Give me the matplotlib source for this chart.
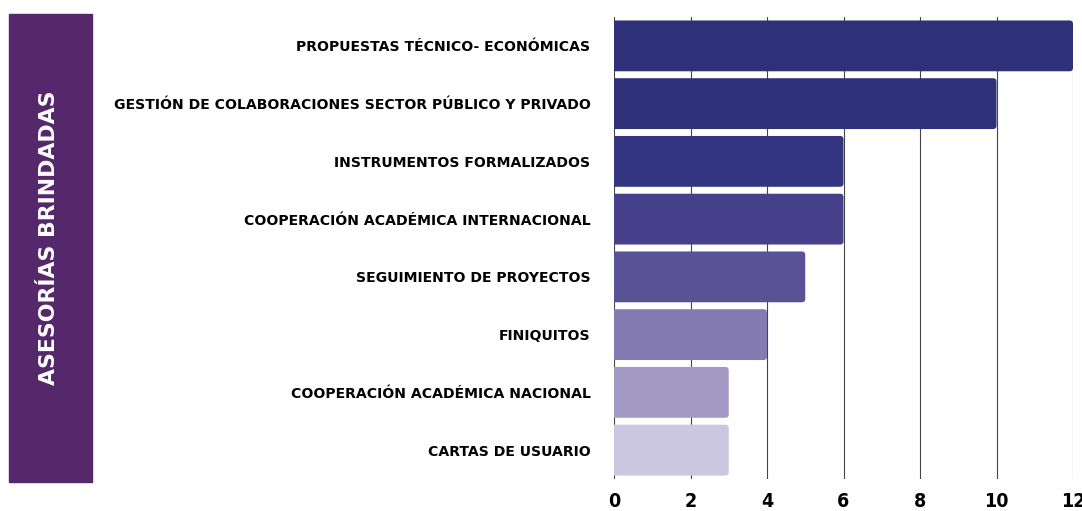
import matplotlib
matplotlib.use('Agg')
import matplotlib.pyplot as plt
from matplotlib.patches import Rectangle, FancyBboxPatch

# datos de la gráfica
categorias = ['PROPUESTAS TÉCNICO- ECONÓMICAS',
              'GESTIÓN DE COLABORACIONES SECTOR PÚBLICO Y PRIVADO',
              'INSTRUMENTOS FORMALIZADOS',
              'COOPERACIÓN ACADÉMICA INTERNACIONAL',
              'SEGUIMIENTO DE PROYECTOS',
              'FINIQUITOS',
              'COOPERACIÓN ACADÉMICA NACIONAL',
              'CARTAS DE USUARIO']
valores = [12, 10, 6, 6, 5, 4, 3, 3]
colores = ['#2E3178', '#2E3178', '#333580', '#46418A', '#5A5296', '#857BB3', '#A29AC5', '#CBC7E1']
ticks_x = [0, 2, 4, 6, 8, 10, 12]
titulo = 'ASESORÍAS BRINDADAS'

fig = plt.figure(figsize=(10.82, 5.11), dpi=100)
ax = fig.add_axes([614 / 1082, 1 - 479 / 511, 459 / 1082, 462 / 511])

y = list(range(len(categorias)))
barras = ax.barh(y, valores, height=0.88, color=colores, zorder=3)
ax.set_ylim(len(categorias) - 0.5, -0.5)
ax.set_xlim(0, 12)

# esquinas redondeadas en el extremo derecho de cada barra
for b in barras:
    b.set_visible(False)
    x0 = -0.3
    caja = FancyBboxPatch((x0, b.get_y()), b.get_width() - x0, b.get_height(),
                          boxstyle='round,pad=0,rounding_size=0.09',
                          mutation_aspect=0.66, facecolor=b.get_facecolor(),
                          edgecolor='none', zorder=3)
    ax.add_patch(caja)

ax.set_xticks(ticks_x)
ax.set_xticklabels([str(t) for t in ticks_x], family='DejaVu Sans', fontstretch='condensed',
                   fontweight='bold', fontsize=14)
ax.set_yticks(y)
ax.set_yticklabels(categorias, family='DejaVu Sans', fontweight='bold', fontsize=10.1)
ax.tick_params(axis='both', length=0)
ax.tick_params(axis='y', pad=17)
ax.tick_params(axis='x', pad=9)

ax.grid(axis='x', color='#444444', linewidth=0.8, zorder=0)
for s in ax.spines.values():
    s.set_visible(False)

# caja lateral con el título vertical
fig.patches.append(Rectangle((9 / 1082, 1 - 482 / 511), 83 / 1082, 468 / 511,
                             transform=fig.transFigure, color='#55286B', zorder=0))
fig.text(49 / 1082, 1 - 238 / 511, titulo, rotation=90, color='white',
         fontsize=15.8, fontweight='bold', ha='center', va='center')

fig.savefig('out.png', dpi=100)
